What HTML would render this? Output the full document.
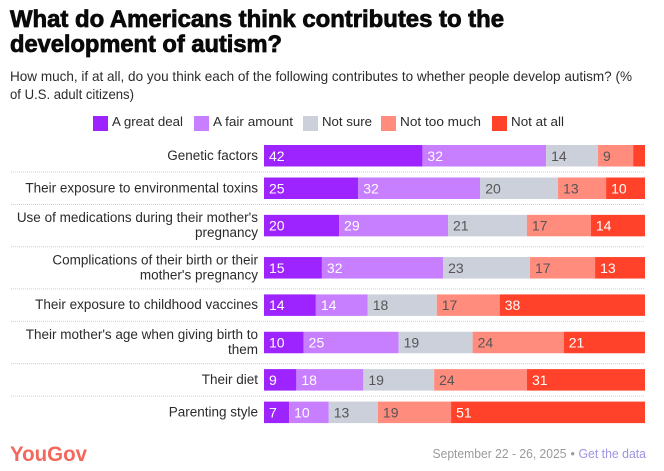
<!DOCTYPE html>
<html lang="en">
<head>
<meta charset="utf-8">
<title>What do Americans think contributes to the development of autism?</title>
<style>
html,body{margin:0;padding:0;background:#fff;}
svg{display:block;font-family:"Liberation Sans",sans-serif;}
</style>
</head>
<body>
<svg id="chart" xmlns="http://www.w3.org/2000/svg" width="664" height="471" viewBox="0 0 664 471">
  <rect width="664" height="471" fill="#fff"/>
  <g font-size="24" font-weight="700" fill="#0a0a0a" stroke="#0a0a0a" stroke-width="0.8">
    <text x="10" y="27" textLength="494" lengthAdjust="spacingAndGlyphs">What do Americans think contributes to the</text>
    <text x="10" y="52" textLength="272" lengthAdjust="spacingAndGlyphs">development of autism?</text>
  </g>
  <g font-size="14" fill="#2b2b2b">
    <text x="10" y="81" textLength="622" lengthAdjust="spacingAndGlyphs">How much, if at all, do you think each of the following contributes to whether people develop autism? (%</text>
    <text x="10" y="99" textLength="124" lengthAdjust="spacingAndGlyphs">of U.S. adult citizens)</text>
  </g>
  <g id="legend"></g>
  <g id="rows"></g>
  <text x="10" y="461" font-size="21.5" font-weight="700" fill="#f2685c" textLength="77" lengthAdjust="spacingAndGlyphs">YouGov</text>
  <text x="432.5" y="458" font-size="12.5" fill="#9a9a9a" textLength="134" lengthAdjust="spacingAndGlyphs">September 22 - 26, 2025</text>
  <text x="570.5" y="458" font-size="12.5" fill="#9a9a9a">•</text>
  <text x="578.5" y="458" font-size="12.5" fill="#9c94e2" textLength="67.5" lengthAdjust="spacingAndGlyphs">Get the data</text>
</svg>
<script>
var categories = [
  ["Genetic factors"],
  ["Their exposure to environmental toxins"],
  ["Use of medications during their mother's", "pregnancy"],
  ["Complications of their birth or their", "mother's pregnancy"],
  ["Their exposure to childhood vaccines"],
  ["Their mother's age when giving birth to", "them"],
  ["Their diet"],
  ["Parenting style"]
];
var seriesNames = ["A great deal", "A fair amount", "Not sure", "Not too much", "Not at all"];
var greatDeal = [41.5, 24.7, 19.7, 15.2, 13.6, 10.4, 8.5, 6.6];
var fairAmount = [32.4, 32, 28.6, 31.8, 13.6, 24.9, 17.6, 10.4];
var notSure = [13.6, 20.4, 20.7, 22.8, 18.1, 19.4, 18.6, 12.9];
var notTooMuch = [9.2, 12.6, 16.8, 17.1, 16.5, 23.9, 24.4, 19.2];
var notAtAll = [3.1, 10.2, 14.2, 13.1, 38.1, 21.3, 31, 50.9];
var seriesValues = [greatDeal, fairAmount, notSure, notTooMuch, notAtAll];

var seriesColors = ["#9d24ff", "#c77fff", "#cbd0db", "#ff8c7d", "#ff4229"];
var labelColors = ["#fff", "#fff", "#555", "#555", "#fff"];
var legendSwatchX = [93, 194, 303, 381, 492];
var legendTextWidth = [71, 80, 50, 81, 53];

var NS = "http://www.w3.org/2000/svg";
var plotLeft = 264, plotRight = 645, labelRight = 258, barHeight = 21.5;
var bandTop = 139.5, oneLineBand = 32.5, twoLineBand = 42.2;

function make(tag, attrs, parent, text) {
  var el = document.createElementNS(NS, tag);
  for (var k in attrs) el.setAttribute(k, attrs[k]);
  if (text !== undefined) el.textContent = text;
  parent.appendChild(el);
  return el;
}
function xScale(cumulative, total) {
  return plotLeft + (plotRight - plotLeft) * cumulative / total;
}

var legend = document.getElementById("legend");
seriesNames.forEach(function (name, s) {
  var swatch = make("rect", {x: legendSwatchX[s], y: 116, width: 15, height: 15, fill: seriesColors[s]}, legend);
  
  
  var label = make("text", {x: legendSwatchX[s] + 19, y: 126, "font-size": 13, fill: "#2b2b2b", textLength: legendTextWidth[s], lengthAdjust: "spacingAndGlyphs"}, legend, name);
  
  
});

var rows = document.getElementById("rows");
var y = bandTop;
categories.forEach(function (lines, i) {
  var band = lines.length > 1 ? twoLineBand : oneLineBand;
  var center = y + band / 2;

  lines.forEach(function (line, l) {
    var baseline = center + 4 + (l - (lines.length - 1) / 2) * 15;
    var cat = make("text", {x: labelRight, y: baseline, "text-anchor": "end", "font-size": 13.5, fill: "#2b2b2b"}, rows, line);
    
    
  });

  var total = 0;
  seriesValues.forEach(function (vals) { total += vals[i]; });
  var cumulative = 0;
  seriesValues.forEach(function (vals, s) {
    var x0 = xScale(cumulative, total);
    cumulative += vals[i];
    var x1 = xScale(cumulative, total);
    var bar = make("rect", {x: x0, y: center - barHeight / 2, width: x1 - x0, height: barHeight, fill: seriesColors[s]}, rows);
    
    
    if (vals[i] >= 5) {
      var val = make("text", {x: x0 + 5, y: center + 5, "font-size": 14, fill: labelColors[s]}, rows, String(Math.round(vals[i])));
      
      
    }
  });

  y += band;
  if (i < categories.length - 1) {
    var sep = make("line", {x1: 11, x2: plotRight, y1: y, y2: y, stroke: "#cfcfcf", "stroke-width": 1, "stroke-dasharray": "1 1"}, rows);
    
    
  }
});
</script>
</body>
</html>
